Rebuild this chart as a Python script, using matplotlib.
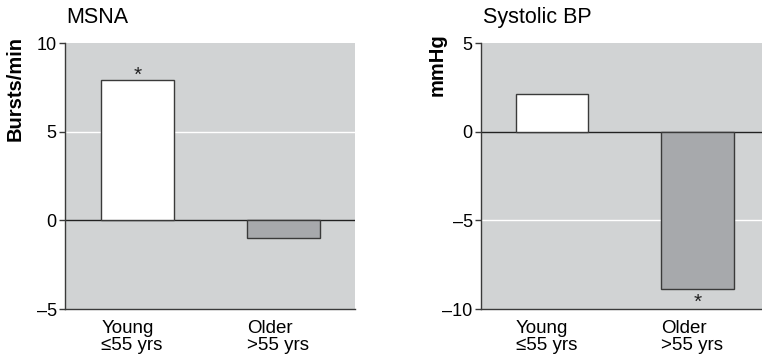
import matplotlib
matplotlib.use("Agg")
import matplotlib.pyplot as plt

plt.rcParams["font.family"] = ["Liberation Sans", "DejaVu Sans"]

categories = ["Young\n\u226455 yrs", "Older\n>55 yrs"]
msna_change = [7.9, -1.0]
sbp_change = [2.1, -8.85]
msna_ticks = [-5, 0, 5, 10]
sbp_ticks = [-10, -5, 0, 5]
msna_sig = [True, False]
sbp_sig = [False, True]

BG = "#d1d3d4"
BAR_COLORS = ["#ffffff", "#a7a9ac"]
EDGE = "#3a3a3a"


def fmt_tick(v):
    return f"\u2013{abs(v)}" if v < 0 else f"{v}"


def draw_panel(ax, values, ticks, sig, grid_at, xlim):
    ax.set_facecolor(BG)
    x = list(range(len(values)))
    ax.bar(x, values, width=0.5, color=BAR_COLORS, edgecolor=EDGE,
           linewidth=1.0, zorder=3)
    ax.axhline(0, color="#222222", linewidth=1.0, zorder=2)
    ax.axhline(grid_at, color="white", linewidth=1.0, zorder=1)
    ax.set_ylim(ticks[0], ticks[-1])
    ax.set_xlim(*xlim)
    ax.set_yticks(ticks)
    ax.set_yticklabels([fmt_tick(t) for t in ticks], fontsize=13)
    ax.tick_params(axis="y", length=4, width=1, color=EDGE, pad=2)
    # category labels sit flush with the left edge of each bar
    ax.set_xticks([i - 0.25 for i in x])
    ax.set_xticklabels(categories, fontsize=13.5, ha="left", linespacing=1.0)
    ax.tick_params(axis="x", length=0, pad=8)
    for s in ["top", "right"]:
        ax.spines[s].set_visible(False)
    for s in ["left", "bottom"]:
        ax.spines[s].set_color(EDGE)
        ax.spines[s].set_linewidth(1.0)
    for i, (v, star) in enumerate(zip(values, sig)):
        if star:
            up = v > 0
            ax.annotate("*", (i, v), xytext=(0, -3 if up else -3),
                        textcoords="offset points", ha="center",
                        va="bottom" if up else "top",
                        fontsize=15, color="#222222")


fig = plt.figure(figsize=(7.62, 3.61), dpi=100)
W, H = 762, 361
ax1 = fig.add_axes([65 / W, 1 - 309 / H, 290 / W, 266 / H])
ax2 = fig.add_axes([481 / W, 1 - 309 / H, 281 / W, 266 / H])

draw_panel(ax1, msna_change, msna_ticks, msna_sig, 5, (-0.5, 1.49))
draw_panel(ax2, sbp_change, sbp_ticks, sbp_sig, -5, (-0.49, 1.445))

fig.text(66 / W, 1 - 23 / H, "MSNA", fontsize=15.5, ha="left", va="baseline")
fig.text(483 / W, 1 - 23 / H, "Systolic BP", fontsize=15.5, ha="left", va="baseline")
fig.text(15 / W, 1 - 36 / H, "Bursts/min", fontsize=14.5, fontweight="bold",
         rotation=90, ha="center", va="top")
fig.text(437 / W, 1 - 33 / H, "mmHg", fontsize=14.5, fontweight="bold",
         rotation=90, ha="center", va="top")

fig.savefig("out.png", dpi=100)
